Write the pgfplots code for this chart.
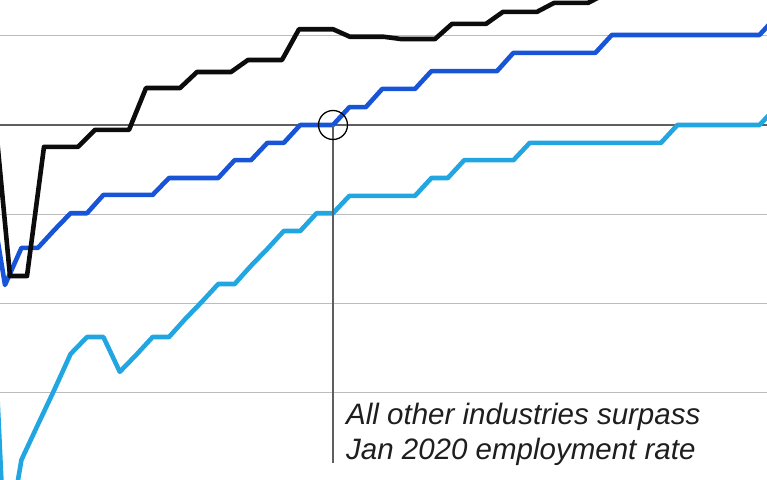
\documentclass[border=0pt]{standalone}
\usepackage{fontspec}
\setmainfont{Liberation Sans}
\usepackage{pgfplots}
\pgfplotsset{compat=1.18}
\definecolor{allblack}{RGB}{12,12,12}
\definecolor{midblue}{RGB}{24,84,216}
\definecolor{skyblue}{RGB}{33,166,226}
\definecolor{gridgray}{RGB}{188,188,188}
\definecolor{basegray}{RGB}{95,95,95}
\definecolor{notegray}{RGB}{30,30,30}

\begin{document}
\begin{tikzpicture}
\begin{axis}[
    name=ax,
    scale only axis,
    width=767bp, height=480bp,
    xmin=0, xmax=767,
    ymin=-7.969, ymax=2.806,
    axis line style={draw=none},
    xtick=\empty, ytick=\empty,
    every axis plot/.append style={line width=4.6bp, line join=round, mark=none},
]
% grid lines and the Jan 2020 baseline
\draw[gridgray, line width=1.1bp] (axis cs:0,2) -- (axis cs:767,2);
\draw[gridgray, line width=1.1bp] (axis cs:0,-2) -- (axis cs:767,-2);
\draw[gridgray, line width=1.1bp] (axis cs:0,-4) -- (axis cs:767,-4);
\draw[gridgray, line width=1.1bp] (axis cs:0,-6) -- (axis cs:767,-6);
\draw[basegray, line width=1.4bp] (axis cs:0,0) -- (axis cs:767,0);

% light blue series
\addplot[color=skyblue] coordinates {
    (-11.4,1.35) (-2.5,-6.13) (5,-9.70) (21.4,-7.52) (37.8,-6.73) (54.2,-5.95) (70.6,-5.14)
    (87,-4.76) (103.4,-4.76) (119.8,-5.54) (136.2,-5.16) (152.6,-4.76) (169,-4.76)
    (185.4,-4.35) (201.8,-3.97) (218.2,-3.57) (234.6,-3.57) (251,-3.16) (267.4,-2.78)
    (283.8,-2.38) (300.2,-2.38) (316.6,-1.98) (333,-1.98) (349.4,-1.59) (365.8,-1.59)
    (382.2,-1.59) (398.6,-1.59) (415,-1.59) (431.4,-1.19) (447.8,-1.19) (464.2,-0.79)
    (480.6,-0.79) (497,-0.79) (513.4,-0.79) (529.8,-0.40) (546.2,-0.40) (562.6,-0.40)
    (579,-0.40) (595.4,-0.40) (611.8,-0.40) (628.2,-0.40) (644.6,-0.40) (661,-0.40)
    (677.4,0) (693.8,0) (710.2,0) (726.6,0) (743,0) (759.4,0) (775.8,0.38)
};

% blue series
\addplot[color=midblue] coordinates {
    (-11.4,-1.35) (5,-3.59) (21.4,-2.76) (37.8,-2.76) (54.2,-2.36) (70.6,-1.98)
    (87,-1.98) (103.4,-1.57) (119.8,-1.57) (136.2,-1.57) (152.6,-1.57) (169,-1.19)
    (185.4,-1.19) (201.8,-1.19) (218.2,-1.19) (234.6,-0.79) (251,-0.79) (267.4,-0.40)
    (283.8,-0.40) (300.2,0) (316.6,0) (333,0) (349.4,0.40) (365.8,0.40)
    (382.2,0.81) (398.6,0.81) (415,0.81) (431.4,1.21) (447.8,1.21) (464.2,1.21)
    (480.6,1.21) (497,1.21) (513.4,1.62) (529.8,1.62) (546.2,1.62) (562.6,1.62)
    (579,1.62) (595.4,1.62) (611.8,2.02) (628.2,2.02) (644.6,2.02) (661,2.02)
    (677.4,2.02) (693.8,2.02) (710.2,2.02) (726.6,2.02) (743,2.02) (759.4,2.02)
    (775.8,2.42)
};

% black series
\addplot[color=allblack] coordinates {
    (-7,0.65) (10,-3.39) (27,-3.39) (44,-0.49) (61,-0.49) (78,-0.49)
    (95,-0.11) (112,-0.11) (129,-0.11) (146,0.83) (163,0.83) (180,0.83)
    (197,1.19) (214,1.19) (231,1.19) (248,1.46) (265,1.46) (282,1.46)
    (299,2.15) (316,2.15) (333,2.15) (350,1.98) (367,1.98) (384,1.98)
    (401,1.93) (418,1.93) (435,1.93) (452,2.27) (469,2.27) (486,2.27)
    (503,2.54) (520,2.54) (537,2.54) (554,2.74) (571,2.74) (588,2.74)
    (605,2.94) (622,2.94) (639,2.94) (656,3.10)
};

% annotation
\draw[basegray, line width=1.3bp] (axis cs:333,0) -- (axis cs:333,-7.59);
\draw[black, line width=1.3bp] (axis cs:333,0) circle[radius=14.5bp];
\node[anchor=base west, inner sep=0pt, text=notegray, font=\fontsize{29.5bp}{34bp}\selectfont\itshape]
    at (axis cs:346,-6.73) {All other industries surpass};
\node[anchor=base west, inner sep=0pt, text=notegray, font=\fontsize{29.5bp}{34bp}\selectfont\itshape]
    at (axis cs:346,-7.51) {Jan 2020 employment rate};
\end{axis}
\pgfresetboundingbox
\path[use as bounding box] (ax.south west) rectangle (ax.north east);
\end{tikzpicture}
\end{document}
